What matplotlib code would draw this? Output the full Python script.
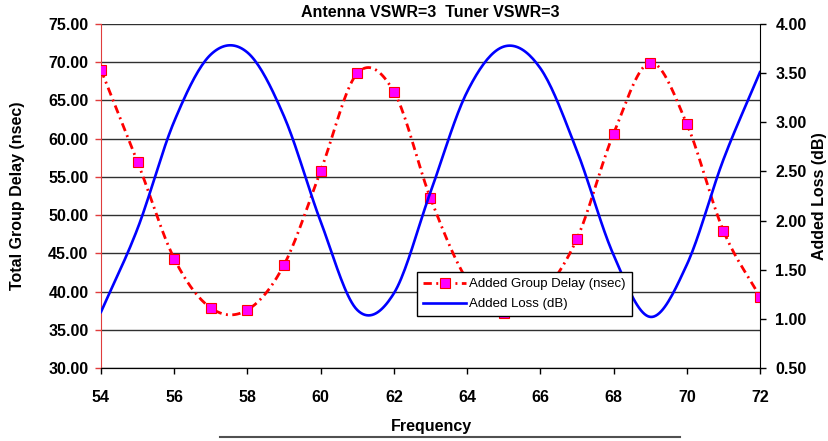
import numpy as np
import matplotlib
matplotlib.use("Agg")
import matplotlib.pyplot as plt
from matplotlib.lines import Line2D

plt.rcParams['font.family'] = ['Liberation Sans', 'DejaVu Sans']

# data
freq = [54, 55, 56, 57, 58, 59, 60, 61, 62, 63, 64, 65, 66, 67, 68, 69, 70, 71, 72]
group_delay = [69.0, 56.95, 44.3, 37.85, 37.6, 43.5, 55.8, 68.55, 66.15, 52.2,
               41.5, 37.15, 39.5, 46.9, 60.65, 69.95, 61.95, 47.95, 39.3]
added_loss = [1.07, 1.92, 3.01, 3.69, 3.71, 3.06, 1.99, 1.09, 1.26, 2.29,
              3.31, 3.77, 3.55, 2.71, 1.65, 1.02, 1.55, 2.62, 3.51]

title = "Antenna VSWR=3  Tuner VSWR=3"
xticks = list(range(54, 73, 2))
left_ticks = np.arange(30, 75.1, 5)
right_ticks = np.arange(0.5, 4.01, 0.5)

NSEG = 20


def smooth(x, y, n=NSEG):
    """excel-like smoothed line (catmull-rom through the points)"""
    x = np.asarray(x, float)
    y = np.asarray(y, float)
    mx = np.gradient(x)
    my = np.gradient(y)
    t = np.linspace(0, 1, n, endpoint=False)
    h00 = 2*t**3 - 3*t**2 + 1
    h10 = t**3 - 2*t**2 + t
    h01 = -2*t**3 + 3*t**2
    h11 = t**3 - t**2
    xs, ys = [], []
    for i in range(len(x) - 1):
        xs.append(h00*x[i] + h10*mx[i] + h01*x[i+1] + h11*mx[i+1])
        ys.append(h00*y[i] + h10*my[i] + h01*y[i+1] + h11*my[i+1])
    xs.append([x[-1]])
    ys.append([y[-1]])
    return np.concatenate(xs), np.concatenate(ys)


fig = plt.figure(figsize=(8.29, 4.41), dpi=100)
ax = fig.add_axes([101/829, 1 - 368/441, 659/829, 344/441])
ax2 = ax.twinx()

sx, sy = smooth(freq, group_delay)
marks = list(range(0, len(sx), NSEG))
red, = ax.plot(sx, sy, color='#ff0000', lw=2.0, dashes=(3.0, 1.6, 0.7, 1.6),
               marker='s', markevery=marks, markersize=7.5,
               markerfacecolor='#ff00ff', markeredgecolor='#ff0000',
               markeredgewidth=0.8, label="Added Group Delay (nsec)", zorder=3)

bx, by = smooth(freq, added_loss)
blue, = ax2.plot(bx, by, color='#0000ff', lw=1.9, label="Added Loss (dB)")

ax.set_xlim(54, 72)
ax.set_ylim(30, 75)
ax2.set_ylim(0.5, 4.0)
ax.set_xticks(xticks)
ax.set_yticks(left_ticks)
ax2.set_yticks(right_ticks)
ax.set_yticklabels(["%.2f" % v for v in left_ticks])
ax2.set_yticklabels(["%.2f" % v for v in right_ticks])

ax.yaxis.grid(True, color='#303030', lw=1.0)
ax.set_axisbelow(True)

for a in (ax, ax2):
    a.spines['top'].set_visible(False)
    a.tick_params(labelsize=11.5, length=4, width=1)
    for lab in a.get_xticklabels() + a.get_yticklabels():
        lab.set_fontweight('bold')
ax2.spines['left'].set_visible(False)
ax.spines['right'].set_visible(False)
ax.spines['left'].set_color('#e03c3c')
ax.tick_params(axis='y', color='#e03c3c', pad=5)
ax.tick_params(axis='x', pad=12)
ax2.tick_params(axis='y', pad=7)

ax.set_title(title, fontsize=11.5, fontweight='bold', pad=5)
fig.text(18/829, 1 - 196/441, "Total Group Delay (nsec)", rotation=90,
         ha='center', va='center', fontsize=11.5, fontweight='bold')
fig.text(820/829, 1 - 196/441, "Added Loss (dB)", rotation=90,
         ha='center', va='center', fontsize=11.5, fontweight='bold')
fig.text(431/829, 1 - 426/441, "Frequency", ha='center', va='center',
         fontsize=11.5, fontweight='bold')

leg = ax2.legend(handles=[red, blue], loc='upper left',
                 bbox_to_anchor=(417/829, 1 - 272/441),
                 bbox_transform=fig.transFigure, borderaxespad=0,
                 fontsize=9.5, handlelength=3.3, handletextpad=0.2,
                 labelspacing=0.6, borderpad=0.45, fancybox=False,
                 framealpha=1, edgecolor='black')
leg.get_frame().set_linewidth(1.0)

# top edge of a box cut off below the chart
fig.add_artist(Line2D([220/829, 680/829], [1 - 437/441]*2, color='#505050',
                      lw=1.5, transform=fig.transFigure))

fig.savefig("out.png", dpi=100)
